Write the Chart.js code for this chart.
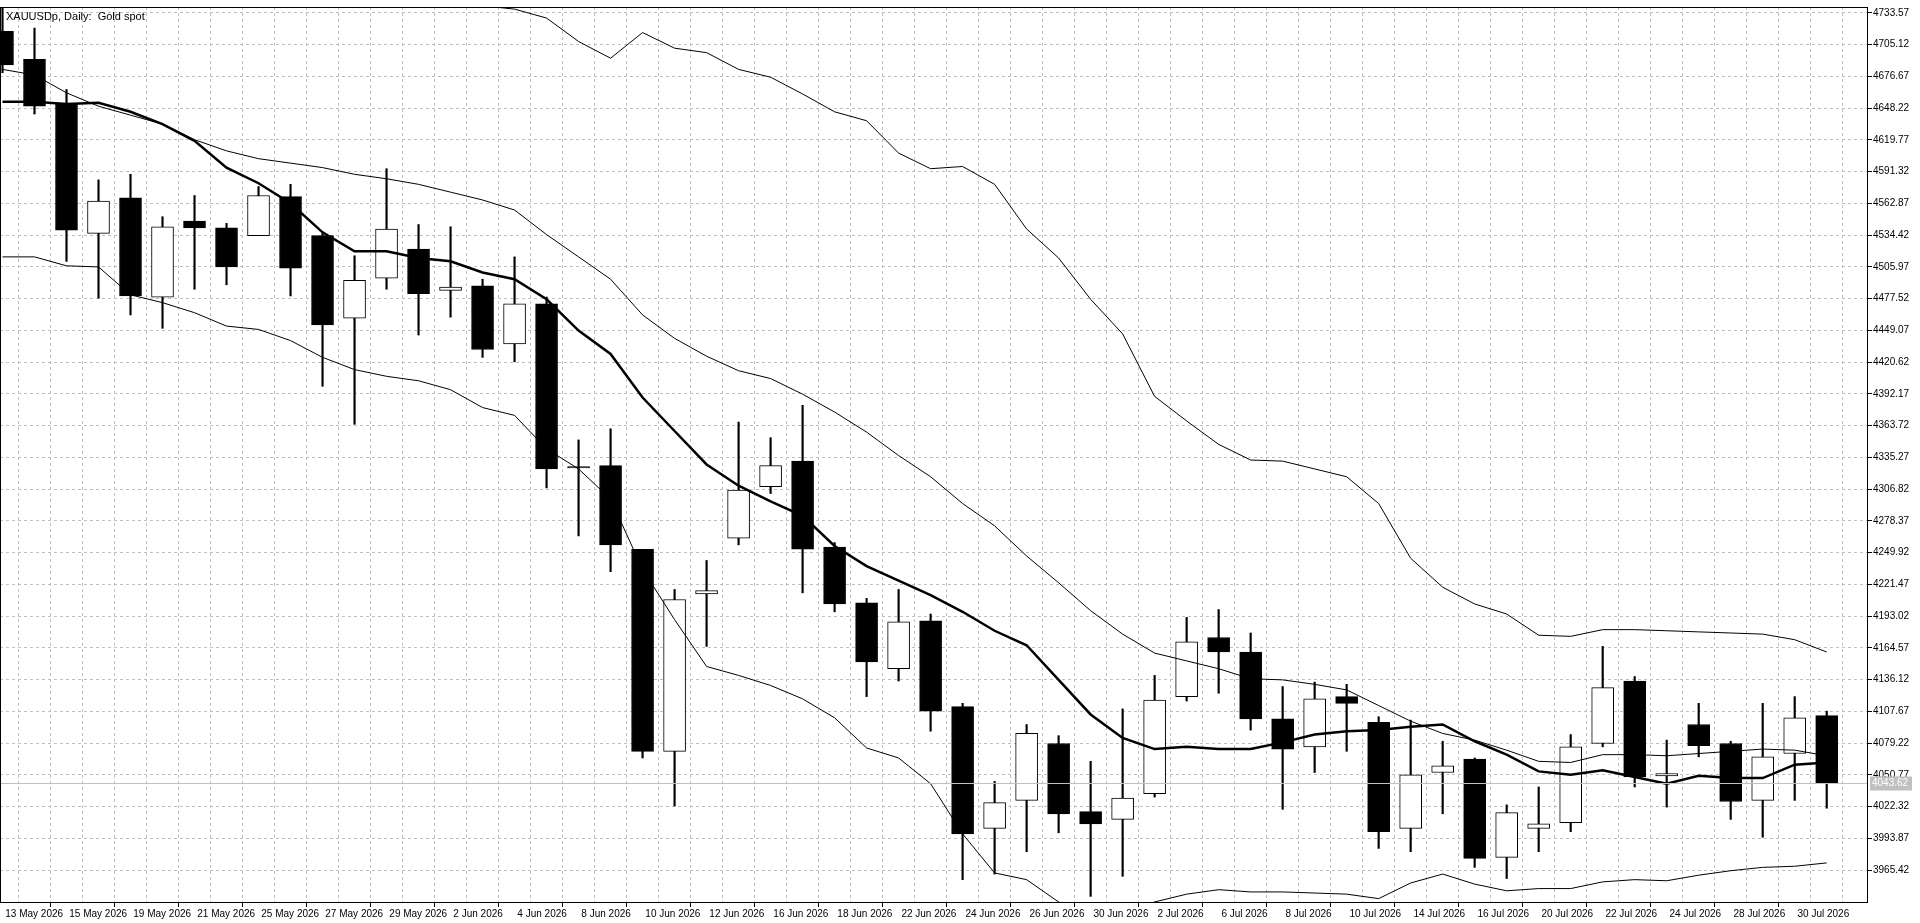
<!DOCTYPE html>
<html><head><meta charset="utf-8">
<script src="https://cdn.jsdelivr.net/npm/chart.js@4.4.0/dist/chart.umd.min.js"></script>
<style>html,body{margin:0;padding:0;background:#fff;}#wrap{width:1920px;height:923px;position:relative;}</style>
</head><body><div id="wrap"><canvas id="c"></canvas></div>
<script>
const title = "XAUUSDp, Daily:  Gold spot";
const dateLabels = ["13 May 2026","15 May 2026","19 May 2026","21 May 2026","25 May 2026","27 May 2026","29 May 2026","2 Jun 2026","4 Jun 2026","8 Jun 2026","10 Jun 2026","12 Jun 2026","16 Jun 2026","18 Jun 2026","22 Jun 2026","24 Jun 2026","26 Jun 2026","30 Jun 2026","2 Jul 2026","6 Jul 2026","8 Jul 2026","10 Jul 2026","14 Jul 2026","16 Jul 2026","20 Jul 2026","22 Jul 2026","24 Jul 2026","28 Jul 2026","30 Jul 2026"];
const priceTicks = ["3965.42","3993.87","4022.32","4050.77","4079.22","4107.67","4136.12","4164.57","4193.02","4221.47","4249.92","4278.37","4306.82","4335.27","4363.72","4392.17","4420.62","4449.07","4477.52","4505.97","4534.42","4562.87","4591.32","4619.77","4648.22","4676.67","4705.12","4733.57"];
const openP  = [4717,4692,4652,4536,4568,4479,4547,4541,4534,4569,4534,4460,4496,4522,4485,4489,4437,4473,4327,4328,4253,4072,4213,4263,4309,4332,4255,4205,4146,4189,4112,4003,4028,4079,4018,4011,4034,4121,4174,4161,4101,4076,4121,4098,4003,4053,4065,3977,4003,4008,4079,4135,4050,4096,4079,4028,4070,4104];
const highP  = [4740,4720,4665,4584,4589,4551,4570,4545,4578,4580,4536,4516,4594,4544,4542,4495,4515,4479,4351,4361,4253,4217,4243,4367,4353,4382,4259,4209,4217,4195,4115,4045,4096,4086,4063,4110,4140,4192,4199,4178,4130,4134,4132,4103,4100,4081,4066,4024,4040,4087,4166,4139,4082,4115,4081,4115,4121,4108];
const lowP   = [4680,4643,4511,4478,4463,4451,4486,4490,4534,4480,4399,4365,4486,4445,4461,4425,4421,4308,4265,4233,4066,4023,4166,4257,4303,4214,4197,4121,4135,4090,3957,3962,3982,3999,3942,3960,4031,4117,4124,4091,4020,4053,4072,3985,3982,4016,3968,3958,3982,4000,4076,4040,4022,4067,4011,3995,4028,4021];
const closeP = [4687,4650,4539,4565,4480,4542,4541,4506,4570,4505,4454,4494,4540,4482,4488,4432,4473,4325,4326,4257,4072,4208,4216,4306,4328,4253,4204,4152,4188,4108,3998,4026,4088,4016,4007,4030,4118,4170,4161,4101,4074,4119,4115,4000,4051,4059,3976,4017,4007,4076,4129,4049,4052,4077,4027,4067,4102,4043.62];
const maLine = [4654,4654,4652,4653,4645,4634,4619,4595,4581,4563,4537,4520,4520,4514,4511,4501,4495,4477,4449,4428,4389,4359,4329,4310,4296,4283,4256,4238,4225,4212,4197,4180,4167,4136,4105,4084,4074,4076,4074,4074,4080,4087,4090,4091,4094,4096,4081,4069,4054,4051,4055,4049,4043,4050,4048,4048,4060,4062];
const bbUpper = [4800,4800,4798,4795,4790,4785,4780,4775,4770,4765,4760,4755,4752,4748,4744,4740,4737,4729,4708,4693,4716,4702,4698,4683,4676,4661,4645,4637,4608,4594,4596,4580,4540,4514,4477,4446,4390,4368,4347,4333,4332,4325,4318,4294,4245,4219,4204,4195,4176,4175,4181,4181,4180,4179,4178,4177,4172,4161];
const bbMiddle = [4683,4678,4662,4650,4642,4634,4620,4610,4603,4599,4595,4589,4585,4580,4573,4566,4557,4535,4515,4495,4463,4442,4426,4413,4406,4392,4376,4358,4337,4318,4294,4274,4247,4223,4198,4177,4160,4153,4146,4137,4136,4132,4127,4113,4099,4088,4082,4073,4063,4062,4069,4069,4068,4070,4072,4074,4073,4068];
const bbLower = [4515,4515,4507,4506,4481,4474,4465,4453,4450,4440,4425,4414,4408,4404,4396,4380,4373,4343,4325,4298,4235,4190,4148,4140,4131,4119,4102,4075,4066,4043,3998,3963,3957,3937,3925,3928,3937,3944,3948,3946,3946,3945,3944,3940,3954,3962,3953,3947,3949,3949,3955,3957,3956,3961,3965,3968,3969,3972];
const lastPrice = 4043.62;

const idx = openP.map((_, i) => i);
const FONT = {family: "'Liberation Sans', Arial, sans-serif", size: 10};

const framePlugin = {
  id: 'frame',
  afterDatasetsDraw(chart) {
    const {ctx, chartArea: a, scales} = chart;
    ctx.save();
    const y = Math.round(scales.y.getPixelForValue(lastPrice)) + 0.5;
    ctx.strokeStyle = '#c0c0c0'; ctx.lineWidth = 1;
    ctx.beginPath(); ctx.moveTo(a.left, y); ctx.lineTo(a.right, y); ctx.stroke();
    ctx.strokeStyle = '#000';
    ctx.strokeRect(a.left + 0.5, a.top + 0.5, a.right - a.left - 1, a.bottom - a.top);
    ctx.fillStyle = '#c0c0c0';
    ctx.fillRect(a.right + 2, y - 7, 42, 14);
    ctx.fillStyle = '#fff'; ctx.font = "10px 'Liberation Sans', Arial, sans-serif";
    ctx.textBaseline = 'middle'; ctx.textAlign = 'left';
    ctx.fillText(lastPrice.toFixed(2), a.right + 4, y);
    ctx.fillStyle = '#000';
    ctx.font = "11px 'Liberation Sans', Arial, sans-serif";
    ctx.fillText(title, a.left + 6, a.top + 10);
    ctx.restore();
  }
};

new Chart(document.getElementById('c'), {
  data: {
    datasets: [
      {type: 'line', label: 'MA', data: idx.map(i => ({x: i, y: maLine[i]})), borderColor: '#000', borderWidth: 2.5, pointRadius: 0, tension: 0, order: 0},
      {type: 'line', label: 'Upper', data: idx.map(i => ({x: i, y: bbUpper[i]})), borderColor: '#000', borderWidth: 1, pointRadius: 0, tension: 0, order: 0},
      {type: 'line', label: 'Middle', data: idx.map(i => ({x: i, y: bbMiddle[i]})), borderColor: '#000', borderWidth: 1, pointRadius: 0, tension: 0, order: 0},
      {type: 'line', label: 'Lower', data: idx.map(i => ({x: i, y: bbLower[i]})), borderColor: '#000', borderWidth: 1, pointRadius: 0, tension: 0, order: 0},
      {type: 'bar', label: 'Body', data: idx.map(i => ({x: i, y: [openP[i], closeP[i]]})),
        backgroundColor: idx.map(i => closeP[i] < openP[i] ? '#000' : '#fff'),
        borderColor: '#000', borderWidth: 1, borderSkipped: false, barThickness: 22, grouped: false, order: 1},
      {type: 'bar', label: 'Wick', data: idx.map(i => ({x: i, y: [lowP[i], highP[i]]})),
        backgroundColor: '#000', borderWidth: 0, barThickness: 1.5, grouped: false, order: 2}
    ]
  },
  options: {
    responsive: true, maintainAspectRatio: false, animation: false, devicePixelRatio: 1,
    layout: {padding: 0},
    plugins: {legend: {display: false}, tooltip: {enabled: false}},
    scales: {
      x: {
        type: 'linear', min: -0.078, max: 58.29, offset: false,
        afterBuildTicks: s => { s.ticks = idx.map(i => ({value: i})); },
        afterFit: s => { s.height = 21; },
        grid: {color: '#c0c0c0', tickBorderDash: [0, 0], tickLength: 5,
               tickColor: c => (c.tick && c.tick.value % 2 === 0) ? '#000' : 'rgba(0,0,0,0)'},
        border: {display: false, dash: [3, 3]},
        ticks: {autoSkip: false, maxRotation: 0, minRotation: 0, align: 'start', padding: 1, color: '#000', font: FONT,
                callback: v => (v % 2 === 0 ? ' ' + dateLabels[v / 2] : '')}
      },
      y: {
        position: 'right', min: 3936.97, max: 4738.9,
        afterBuildTicks: s => { s.ticks = priceTicks.map(t => ({value: parseFloat(t)})); },
        afterFit: s => { s.width = 52; },
        grid: {color: '#c0c0c0', tickBorderDash: [0, 0], tickLength: 4, tickColor: '#000'},
        border: {display: false, dash: [3, 3]},
        ticks: {autoSkip: false, padding: 1, color: '#000', font: FONT, crossAlign: 'near',
                callback: v => v.toFixed(2)}
      }
    }
  },
  plugins: [framePlugin]
});
</script></body></html>
